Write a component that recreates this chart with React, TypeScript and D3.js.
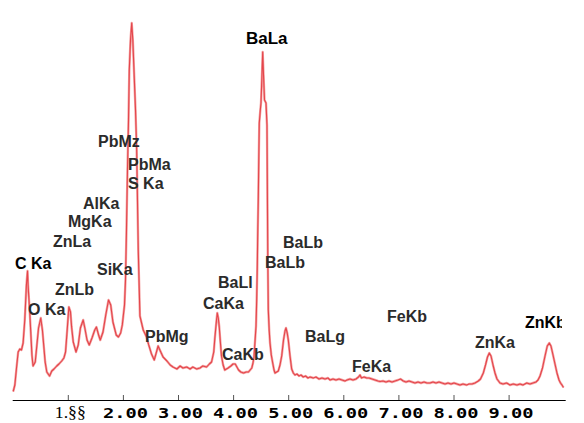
import { useEffect, useRef } from "react";
import * as d3 from "d3";

// EDS spectrum, energy in keV vs counts
const energyKeV = [
  0.0, 0.03, 0.06, 0.09, 0.12, 0.15, 0.18, 0.21, 0.24, 0.26, 0.27, 0.3, 0.34, 0.36, 0.4, 0.43, 0.46, 0.5, 0.53,
  0.58, 0.61, 0.66, 0.7, 0.74, 0.79, 0.83, 0.88, 0.92, 0.95, 0.98, 1.01, 1.04, 1.06, 1.09, 1.14, 1.18, 1.22,
  1.27, 1.3, 1.34, 1.38, 1.43, 1.48, 1.51, 1.55, 1.58, 1.63, 1.68, 1.73, 1.77, 1.81, 1.87, 1.91, 1.95, 1.98,
  2.02, 2.038, 2.056, 2.074, 2.093, 2.107, 2.129, 2.151, 2.171, 2.192, 2.22, 2.241, 2.27, 2.3, 2.36, 2.42,
  2.46, 2.51, 2.56, 2.6, 2.63, 2.67, 2.72, 2.79, 2.85, 2.9, 2.97, 3.03, 3.08, 3.15, 3.21, 3.26, 3.33, 3.39,
  3.44, 3.51, 3.56, 3.6, 3.64, 3.66, 3.69, 3.704, 3.722, 3.74, 3.76, 3.78, 3.81, 3.84, 3.9, 3.95, 3.99, 4.03,
  4.06, 4.09, 4.13, 4.18, 4.23, 4.27, 4.3, 4.33, 4.352, 4.37, 4.388, 4.407, 4.419, 4.43, 4.439, 4.448, 4.457,
  4.466, 4.485, 4.497, 4.512, 4.528, 4.543, 4.561, 4.588, 4.606, 4.614, 4.621, 4.63, 4.646, 4.661, 4.684,
  4.71, 4.734, 4.752, 4.782, 4.811, 4.842, 4.873, 4.906, 4.933, 4.951, 4.973, 4.993, 5.024, 5.054, 5.084,
  5.114, 5.151, 5.187, 5.223, 5.265, 5.305, 5.35, 5.387, 5.447, 5.495, 5.55, 5.604, 5.659, 5.713, 5.75,
  5.804, 5.858, 5.913, 5.967, 6.022, 6.058, 6.113, 6.167, 6.221, 6.267, 6.294, 6.321, 6.367, 6.416, 6.457,
  6.512, 6.566, 6.621, 6.657, 6.711, 6.766, 6.82, 6.875, 6.929, 6.984, 7.029, 7.08, 7.129, 7.183, 7.238,
  7.292, 7.347, 7.401, 7.456, 7.51, 7.564, 7.619, 7.673, 7.728, 7.782, 7.837, 7.891, 7.946, 8.0, 8.054,
  8.109, 8.163, 8.23, 8.272, 8.327, 8.381, 8.441, 8.481, 8.532, 8.572, 8.608, 8.641, 8.672, 8.708, 8.744,
  8.78, 8.835, 8.889, 8.956, 9.016, 9.076, 9.143, 9.198, 9.252, 9.319, 9.379, 9.434, 9.488, 9.525, 9.561,
  9.606, 9.652, 9.693, 9.73, 9.76, 9.797, 9.833, 9.869, 9.906, 9.933, 9.96, 9.987,
];

const counts = [
  85, 150, 320, 480, 510, 500, 570, 800, 1150, 1290, 1150, 880, 450, 340, 380, 550, 720, 820, 700,
  380, 280, 240, 290, 310, 340, 360, 390, 420, 480, 700, 930, 880, 730, 580, 480, 550, 720,
  800, 720, 600, 550, 620, 700, 730, 650, 600, 680, 850, 1000, 950, 780, 650, 630, 670, 750,
  950, 1200, 1700, 2300, 2800, 3300, 3600, 3770, 3600, 3300, 2900, 2500, 1500, 840, 700, 630,
  550, 460, 400, 480, 540, 490, 430, 390, 350, 330, 310, 340, 320, 330, 310, 330, 310, 320,
  340, 330, 360, 380, 480, 620, 800, 870, 820, 730, 580, 440, 350, 300, 320, 340, 360, 360,
  330, 300, 280, 270, 280, 280, 300, 320, 370, 430, 580, 740, 1000, 1330, 1700, 2000, 2400,
  2770, 2900, 2970, 3200, 3480, 3250, 3000, 2970, 2750, 2000, 1400, 900, 700, 570, 450,
  370, 300, 270, 280, 290, 350, 440, 600, 690, 720, 670, 600, 440, 310, 270,
  250, 260, 240, 250, 230, 240, 220, 230, 220, 230, 210, 220, 210, 220, 200,
  210, 200, 210, 200, 190, 200, 210, 200, 210, 230, 250, 220, 230, 220, 220,
  210, 200, 190, 185, 190, 180, 190, 180, 190, 200, 210, 190, 180, 190, 180,
  170, 180, 170, 180, 170, 170, 180, 170, 180, 170, 160, 170, 160, 170, 160,
  150, 160, 150, 160, 160, 170, 190, 210, 270, 350, 430, 470, 440, 350, 270,
  210, 170, 160, 170, 150, 160, 150, 160, 150, 170, 160, 170, 180, 200, 240,
  320, 440, 540, 570, 540, 450, 360, 270, 200, 170, 150, 125,
];

const tickValues = [1, 2, 3, 4, 5, 6, 7, 8, 9];
const tickLabels = ["1.§§", "2.00", "3.00", "4.00", "5.00", "6.00", "7.00", "8.00", "9.00"];

// peak annotations: text, left edge (keV), baseline (counts)
const peakNames = [
  "BaLa", "PbMz", "PbMa", "S Ka", "AlKa", "MgKa", "ZnLa", "C Ka", "SiKa", "ZnLb", "O Ka",
  "PbMg", "BaLb", "BaLb", "BaLl", "CaKa", "CaKb", "BaLg", "FeKa", "FeKb", "ZnKa", "ZnKb",
];
const peakKeV = [
  4.225, 1.539, 2.083, 2.083, 1.267, 0.995, 0.722, 0.033, 1.521, 0.759, 0.269,
  2.392, 4.897, 4.57, 3.717, 3.445, 3.789, 5.296, 6.149, 6.784, 8.381, 9.288,
];
const peakCounts = [
  3565, 2530, 2300, 2110, 1915, 1730, 1530, 1315, 1250, 1050, 850,
  580, 1520, 1320, 1120, 915, 400, 580, 280, 780, 520, 720,
];
const darkNames = ["BaLa", "C Ka", "ZnKb"];

export default function App() {
  const svgRef = useRef<SVGSVGElement>(null);

  useEffect(() => {
    if (!svgRef.current) return;
    const svg = d3.select(svgRef.current);
    svg.selectAll("*").remove();

    const width = 584;
    const height = 423;

    svg.attr("width", width).attr("height", height).attr("viewBox", `0 0 ${width} ${height}`);

    svg.append("rect").attr("width", width).attr("height", height).attr("fill", "#fff");

    const x = d3.scaleLinear().domain([0, 10]).range([13.2, 564.2]);
    const y = d3.scaleLinear().domain([0, 3800]).range([400, 20]);

    svg.append("defs")
      .append("clipPath")
      .attr("id", "plot-clip")
      .append("rect")
      .attr("x", 0)
      .attr("y", 0)
      .attr("width", 562)
      .attr("height", height);

    const pts: [number, number][] = energyKeV.map((e, i) => [e, counts[i]]);

    const line = d3.line<[number, number]>()
      .x(d => x(d[0]))
      .y(d => y(d[1]));

    // soft halo then core line, like the anti-aliased original
    svg.append("path")
      .datum(pts)
      .attr("d", line)
      .attr("fill", "none")
      .attr("stroke", "#f4a3a3")
      .attr("stroke-width", 2.4)
      .attr("stroke-linejoin", "round");

    svg.append("path")
      .datum(pts)
      .attr("d", line)
      .attr("fill", "none")
      .attr("stroke", "#e4454b")
      .attr("stroke-width", 1.1)
      .attr("stroke-linejoin", "round");

    // x axis
    svg.append("line")
      .attr("x1", x(0) - 0.5)
      .attr("x2", x(10) + 1.5)
      .attr("y1", 400.5)
      .attr("y2", 400.5)
      .attr("stroke", "#000")
      .attr("stroke-width", 1.2);

    svg.selectAll(".tick")
      .data(tickValues)
      .enter()
      .append("line")
      .attr("class", "tick")
      .attr("x1", d => x(d))
      .attr("x2", d => x(d))
      .attr("y1", 395)
      .attr("y2", 400)
      .attr("stroke", "#555")
      .attr("stroke-width", 1);

    svg.selectAll(".tick-label")
      .data(tickValues)
      .enter()
      .append("text")
      .attr("class", "tick-label")
      .attr("x", d => x(d) + 2)
      .attr("y", 418)
      .attr("text-anchor", "middle")
      .each(function (d, i) {
        const t = d3.select(this);
        if (i === 0) {
          t.style("font-family", "'Liberation Serif', 'DejaVu Serif', serif")
            .style("font-size", "16px")
            .attr("textLength", 31)
            .attr("lengthAdjust", "spacingAndGlyphs");
        } else {
          t.style("font-family", "'DejaVu Sans Mono', 'Liberation Mono', monospace")
            .style("font-size", "14px")
            .style("font-weight", "bold")
            .attr("textLength", 45)
            .attr("lengthAdjust", "spacingAndGlyphs");
        }
        t.text(tickLabels[i]);
      });

    // peak labels
    svg.append("g")
      .attr("clip-path", "url(#plot-clip)")
      .selectAll("text")
      .data(peakNames)
      .enter()
      .append("text")
      .attr("x", (d, i) => x(peakKeV[i]))
      .attr("y", (d, i) => y(peakCounts[i]))
      .style("font-family", "'Liberation Sans', Arial, sans-serif")
      .style("font-weight", "bold")
      .style("font-size", d => (d === "BaLa" ? "17px" : "16px"))
      .attr("fill", d => (darkNames.includes(d) ? "#000" : "#2b2b2b"))
      .text(d => d);
  }, []);

  return (
    <svg
      ref={svgRef}
      style={{ position: "absolute", left: 0, top: 0, display: "block" }}
    />
  );
}
